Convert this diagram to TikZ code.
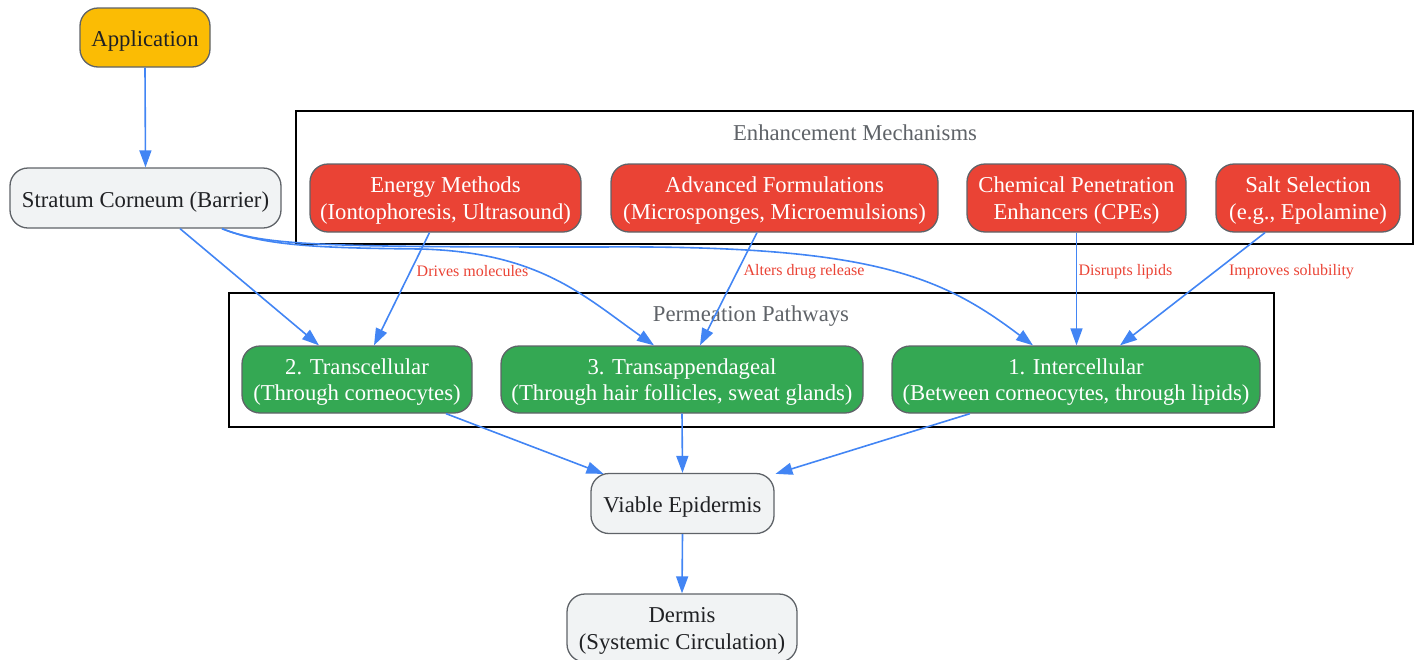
\documentclass[tikz,border=0pt]{standalone}
\usepackage{fontspec}
\setmainfont{Liberation Serif}
\usetikzlibrary{arrows.meta,calc}
\definecolor{edgeblue}{HTML}{4285F4}
\definecolor{nred}{HTML}{EA4335}
\definecolor{ngreen}{HTML}{34A853}
\definecolor{nyellow}{HTML}{FBBC04}
\definecolor{ngray}{HTML}{F1F3F4}
\definecolor{nborder}{HTML}{5F6368}
\definecolor{ntext}{HTML}{202124}
\definecolor{ctitlecol}{HTML}{5F6368}
\begin{document}
\begin{tikzpicture}[x=1pt,y=-1pt,
  box/.style={draw=nborder,line width=1.3pt,rounded corners=18pt,inner sep=0pt,align=center,
    font=\fontsize{22.7}{26.5}\selectfont,text height=24.5pt,text depth=6pt},
  twoline/.style={text height=48.5pt},
  graybox/.style={box,fill=ngray,text=ntext},
  yellowbox/.style={box,fill=nyellow,text=ntext},
  redbox/.style={box,twoline,fill=nred,text=white},
  greenbox/.style={box,twoline,fill=ngreen,text=white},
  edge/.style={draw=edgeblue,line width=1.6pt,-{Triangle[length=17pt,width=12pt]}},
  elabel/.style={font=\fontsize{16}{18}\selectfont,text=nred,inner sep=0pt},
  cluster/.style={draw=black,line width=1.8pt,inner sep=0pt},
  ctitle/.style={font=\fontsize{22.7}{26}\selectfont,text=ctitlecol,inner sep=0pt}
]
\useasboundingbox (0,0) rectangle (1419,659);

% clusters
\node[cluster,minimum width=1117pt,minimum height=133pt] (enh) at (854.5,177.5) {};
\node[ctitle] (enhT) at (855,133) {Enhancement Mechanisms};
\node[cluster,minimum width=1045pt,minimum height=134pt] (perm) at (751.5,360) {};
\node[ctitle] (permT) at (751,316.5) {Permeation Pathways};

% nodes
\node[yellowbox,minimum width=130pt,minimum height=59pt] (app) at (145,37.5) {Application};
\node[graybox,minimum width=271pt,minimum height=60pt] (sc) at (145.5,198) {Stratum Corneum (Barrier)};
\node[redbox,minimum width=271pt,minimum height=68pt] (en) at (445.5,198) {Energy Methods\\(Iontophoresis, Ultrasound)};
\node[redbox,minimum width=327pt,minimum height=68pt] (af) at (774.5,198) {Advanced Formulations\\(Microsponges, Microemulsions)};
\node[redbox,minimum width=219pt,minimum height=68pt] (cpe) at (1076.5,198) {Chemical Penetration\\Enhancers (CPEs)};
\node[redbox,minimum width=184pt,minimum height=68pt] (salt) at (1308,198) {Salt Selection\\(e.g., Epolamine)};
\node[greenbox,minimum width=230pt,minimum height=67pt] (tc) at (357,379.5) {2. Transcellular\\(Through corneocytes)};
\node[greenbox,minimum width=362pt,minimum height=67pt] (ta) at (682,379.5) {3. Transappendageal\\(Through hair follicles, sweat glands)};
\node[greenbox,minimum width=368pt,minimum height=67pt] (ic) at (1076,379.5) {1. Intercellular\\(Between corneocytes, through lipids)};
\node[graybox,minimum width=183pt,minimum height=60pt] (ve) at (682.5,503.5) {Viable Epidermis};
\node[graybox,twoline,minimum width=230pt,minimum height=68pt] (de) at (682,628) {Dermis\\(Systemic Circulation)};

% edges
\draw[edge] (app.south) -- (sc.north);
\draw[edge] ([xshift=34.5pt]sc.south) -- ([xshift=-38pt]tc.north);
\draw[edge] ([xshift=76.5pt]sc.south) .. controls (265,246) and (320,248) .. (420,249)
   .. controls (540,252) and (585,297) .. ([xshift=-28pt]ta.north);
\draw[edge] ([xshift=76.5pt]sc.south) .. controls (265,246) and (330,247) .. (600,247)
   .. controls (870,245) and (940,275) .. ([xshift=-43pt]ic.north);

\draw[edge] ([xshift=-16pt]en.south) -- ([xshift=17pt]tc.north);
\node[elabel] (l1) at (472.5,271.5) {Drives molecules};
\draw[edge] ([xshift=-17.5pt]af.south) -- ([xshift=18pt]ta.north);
\node[elabel] (l2) at (804,271.5) {Alters drug release};
\draw[edge] (cpe.south) -- ([xshift=0.5pt]ic.north);
\node[elabel] (l3) at (1125.5,271.5) {Disrupts lipids};
\draw[edge] ([xshift=-43pt]salt.south) -- ([xshift=44pt]ic.north);
\node[elabel] (l4) at (1291.5,271.5) {Improves solubility};

\draw[edge] ([xshift=89pt]tc.south) -- ([xshift=-79pt,yshift=-1pt]ve.north);
\draw[edge] (ta.south) -- (ve.north);
\draw[edge] ([xshift=-106pt]ic.south) -- ([xshift=93pt,yshift=-1pt]ve.north);
\draw[edge] (ve.south) -- (de.north);
\end{tikzpicture}
\end{document}
